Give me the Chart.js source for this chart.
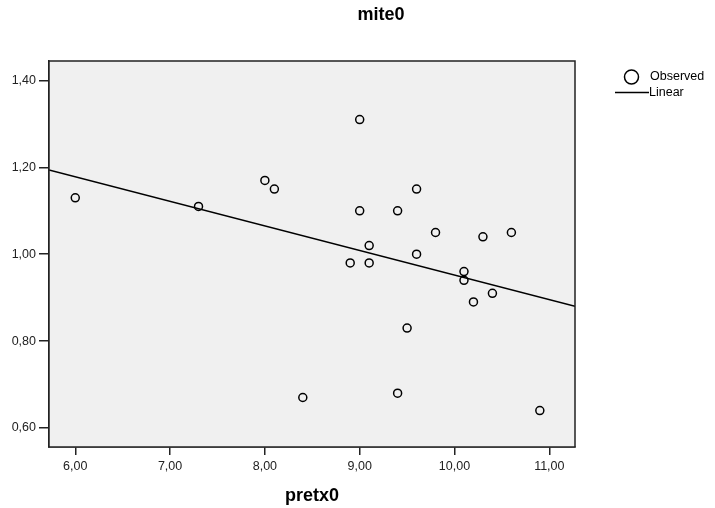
<!DOCTYPE html>
<html>
<head>
<meta charset="utf-8">
<script src="https://cdn.jsdelivr.net/npm/chart.js@4/dist/chart.umd.min.js"></script>
<style>
  html, body { margin: 0; padding: 0; background: #fff; }
  #wrap { width: 715px; height: 508px; }
</style>
</head>
<body>
<div id="wrap"><canvas id="scatterChart" width="715" height="508"></canvas></div>
<script>
// observed values
const pretx0 = [6.0, 7.3, 8.0, 8.1, 8.4, 8.9, 9.0, 9.0, 9.1, 9.1, 9.4, 9.4, 9.5, 9.6, 9.6, 9.8, 10.1, 10.1, 10.2, 10.3, 10.4, 10.6, 10.9];
const mite0 = [1.13, 1.11, 1.17, 1.15, 0.67, 0.98, 1.31, 1.10, 1.02, 0.98, 1.10, 0.68, 0.83, 1.15, 1.00, 1.05, 0.96, 0.94, 0.89, 1.04, 0.91, 1.05, 0.64];

// fitted line, end points
const fitX = [5.723, 11.271];
const fitY = [1.194, 0.880];

const xTicks = [6, 7, 8, 9, 10, 11];
const yTicks = [0.6, 0.8, 1.0, 1.2, 1.4];

const chartTitle = 'mite0';
const xTitle = 'pretx0';
const FONT = '"Liberation Sans", Arial, Helvetica, sans-serif';

const fmt = v => Number(v).toFixed(2).replace('.', ',');

// grey plot background + frame
const plotFrame = {
    id: 'plotFrame',
    beforeDatasetsDraw(chart) {
        const a = chart.chartArea, ctx = chart.ctx;
        ctx.save();
        ctx.fillStyle = '#f0f0f0';
        ctx.fillRect(a.left, a.top, a.right - a.left, a.bottom - a.top);
        ctx.restore();
    },
    afterDraw(chart) {
        const a = chart.chartArea, ctx = chart.ctx;
        ctx.save();
        ctx.strokeStyle = '#222';
        ctx.lineWidth = 1.5;
        ctx.strokeRect(a.left, a.top, a.right - a.left, a.bottom - a.top);
        ctx.restore();
    }
};

// title and legend drawn by hand, SPSS style
const spssDecor = {
    id: 'spssDecor',
    afterDraw(chart) {
        const ctx = chart.ctx;
        ctx.save();
        ctx.fillStyle = '#000';
        ctx.font = 'bold 18px ' + FONT;
        ctx.textAlign = 'center';
        ctx.textBaseline = 'middle';
        ctx.fillText(chartTitle, 381, 15);

        const ds = chart.data.datasets;
        ctx.font = '12.5px ' + FONT;
        ctx.textAlign = 'left';
        // Observed
        ctx.strokeStyle = '#000';
        ctx.lineWidth = 1.5;
        ctx.beginPath();
        ctx.arc(631.5, 77, 7, 0, Math.PI * 2);
        ctx.stroke();
        ctx.fillText(ds[0].label, 650, 77);
        // Linear
        ctx.beginPath();
        ctx.moveTo(615, 92.5);
        ctx.lineTo(649, 92.5);
        ctx.stroke();
        ctx.fillText(ds[1].label, 649, 93);
        ctx.restore();
    }
};

const points = pretx0.map((x, i) => ({ x: x, y: mite0[i] }));
const fitLine = fitX.map((x, i) => ({ x: x, y: fitY[i] }));

new Chart(document.getElementById('scatterChart'), {
    type: 'scatter',
    data: {
        datasets: [{
            label: 'Observed',
            data: points,
            pointStyle: 'circle',
            pointRadius: 4,
            pointBorderWidth: 1.5,
            borderColor: '#000',
            backgroundColor: 'rgba(0,0,0,0)',
            showLine: false
        }, {
            label: 'Linear',
            data: fitLine,
            showLine: true,
            borderColor: '#000',
            borderWidth: 1.5,
            pointRadius: 0,
            fill: false
        }]
    },
    options: {
        responsive: false,
        animation: false,
        layout: { padding: { top: 61, right: 140, left: 0, bottom: 0 } },
        plugins: {
            legend: { display: false },
            tooltip: { enabled: false },
            title: { display: false }
        },
        scales: {
            x: {
                type: 'linear',
                min: 5.723,
                max: 11.271,
                afterBuildTicks: axis => { axis.ticks = xTicks.map(v => ({ value: v })); },
                afterFit: axis => { axis.height = 61; },
                grid: { drawOnChartArea: false, drawTicks: true, tickLength: 8, color: '#222', lineWidth: 1.5 },
                border: { display: true, color: '#222', width: 1.5 },
                ticks: {
                    callback: v => fmt(v),
                    color: '#222',
                    padding: 4,
                    maxRotation: 0,
                    font: { family: FONT, size: 12.5 }
                },
                title: {
                    display: true,
                    text: xTitle,
                    color: '#000',
                    padding: { top: 0, bottom: 1 },
                    font: { family: FONT, size: 18, weight: 'bold' }
                }
            },
            y: {
                type: 'linear',
                min: 0.556,
                max: 1.445,
                afterBuildTicks: axis => { axis.ticks = yTicks.map(v => ({ value: v })); },
                afterFit: axis => { axis.width = 49; },
                grid: { drawOnChartArea: false, drawTicks: true, tickLength: 10, color: '#222', lineWidth: 1.5 },
                border: { display: true, color: '#222', width: 1.5 },
                ticks: {
                    callback: v => fmt(v),
                    color: '#222',
                    padding: 3,
                    font: { family: FONT, size: 12.5 }
                }
            }
        }
    },
    plugins: [plotFrame, spssDecor]
});
</script>
</body>
</html>
